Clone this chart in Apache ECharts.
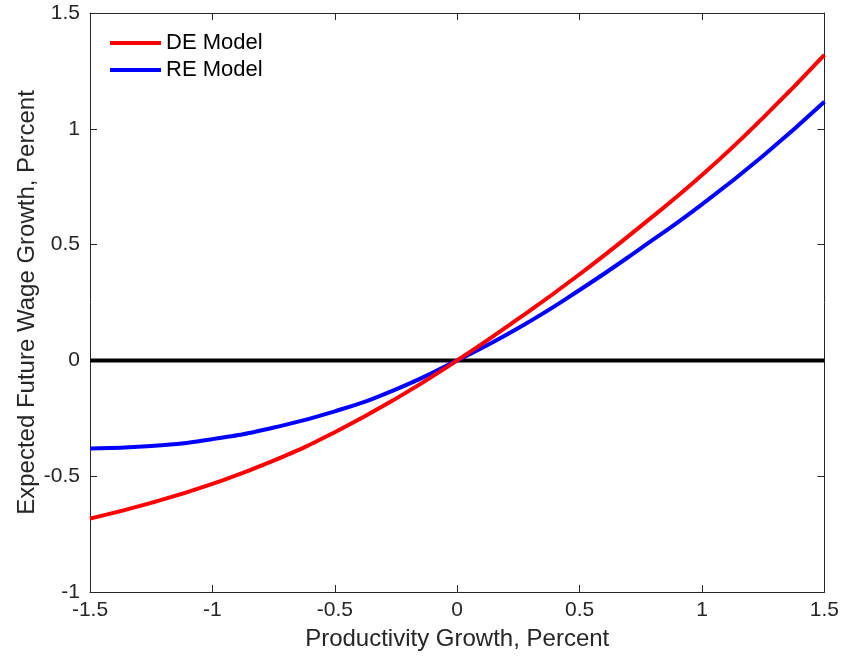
<!DOCTYPE html>
<html>
<head>
<meta charset="utf-8">
<script src="https://cdn.jsdelivr.net/npm/echarts@6/dist/echarts.min.js"></script>
<style>
  html, body { margin: 0; padding: 0; background: #fff; }
  #chart { width: 842px; height: 658px; }
</style>
</head>
<body>
<div id="chart"></div>
<script>
// Productivity growth grid (percent)
const productivityGrowth = [-1.5, -1.25, -1.0, -0.75, -0.5, -0.25, 0, 0.25, 0.5, 0.75, 1.0, 1.25, 1.5];
// Expected future wage growth under each model (percent)
const deModel = [-0.683, -0.615, -0.533, -0.433, -0.31, -0.165, 0, 0.18, 0.372, 0.58, 0.80, 1.048, 1.319];
const reModel = [-0.38, -0.37, -0.34, -0.29, -0.22, -0.125, 0, 0.14, 0.304, 0.484, 0.674, 0.884, 1.117];
// Horizontal reference at zero growth
const zeroLine = [0, 0];
const zeroLineX = [-1.5, 1.5];

const seriesNames = ['DE Model', 'RE Model'];
const xTitle = 'Productivity Growth, Percent';
const yTitle = 'Expected Future Wage Growth, Percent';

const pairs = (xs, ys) => xs.map((x, i) => [x, ys[i]]);

const font = '"Liberation Sans", Arial, Helvetica, sans-serif';
const axisColor = '#262626';

const baseAxis = {
  type: 'value',
  interval: 0.5,
  axisLine: { show: true, onZero: false, lineStyle: { color: axisColor, width: 1 } },
  axisTick: { show: true, inside: true, length: 7, lineStyle: { color: axisColor, width: 1 } },
  splitLine: { show: false },
  axisLabel: { color: axisColor, fontFamily: font, fontSize: 21 }
};

const chart = echarts.init(document.getElementById('chart'), null, { renderer: 'canvas' });
chart.setOption({
  animation: false,
  backgroundColor: '#ffffff',
  grid: { left: 90, top: 13, right: 17, bottom: 66, containLabel: false },
  legend: {
    orient: 'vertical',
    left: 110,
    top: 32,
    padding: 0,
    itemGap: 5,
    itemWidth: 51,
    itemHeight: 4,
    icon: 'rect',
    data: seriesNames,
    textStyle: { color: '#000', fontFamily: font, fontSize: 22, lineHeight: 22 }
  },
  xAxis: [
    Object.assign({}, baseAxis, {
      min: -1.5, max: 1.5, position: 'bottom',
      axisLabel: Object.assign({}, baseAxis.axisLabel, { margin: 8 }),
      name: xTitle, nameLocation: 'middle', nameGap: 35, nameMoveOverlap: false,
      nameTextStyle: { color: axisColor, fontFamily: font, fontSize: 24 }
    }),
    Object.assign({}, baseAxis, {
      min: -1.5, max: 1.5, position: 'top', axisLabel: { show: false }
    })
  ],
  yAxis: [
    Object.assign({}, baseAxis, {
      min: -1, max: 1.5, position: 'left',
      axisLabel: Object.assign({}, baseAxis.axisLabel, { margin: 10 }),
      name: yTitle, nameLocation: 'middle', nameGap: 51, nameMoveOverlap: false,
      nameTextStyle: { color: axisColor, fontFamily: font, fontSize: 24 }
    }),
    Object.assign({}, baseAxis, {
      min: -1, max: 1.5, position: 'right', axisLabel: { show: false }
    })
  ],
  series: [
    {
      name: 'zero',
      type: 'line',
      data: pairs(zeroLineX, zeroLine),
      showSymbol: false,
      symbol: 'none',
      lineStyle: { color: '#000', width: 4 },
      z: 1
    },
    {
      name: seriesNames[0],
      type: 'line',
      data: pairs(productivityGrowth, deModel),
      smooth: true,
      showSymbol: false,
      symbol: 'none',
      color: '#ff0000',
      lineStyle: { color: '#ff0000', width: 4 },
      z: 3
    },
    {
      name: seriesNames[1],
      type: 'line',
      data: pairs(productivityGrowth, reModel),
      smooth: true,
      showSymbol: false,
      symbol: 'none',
      color: '#0000ff',
      lineStyle: { color: '#0000ff', width: 4 },
      z: 2
    }
  ]
});
</script>
</body>
</html>
